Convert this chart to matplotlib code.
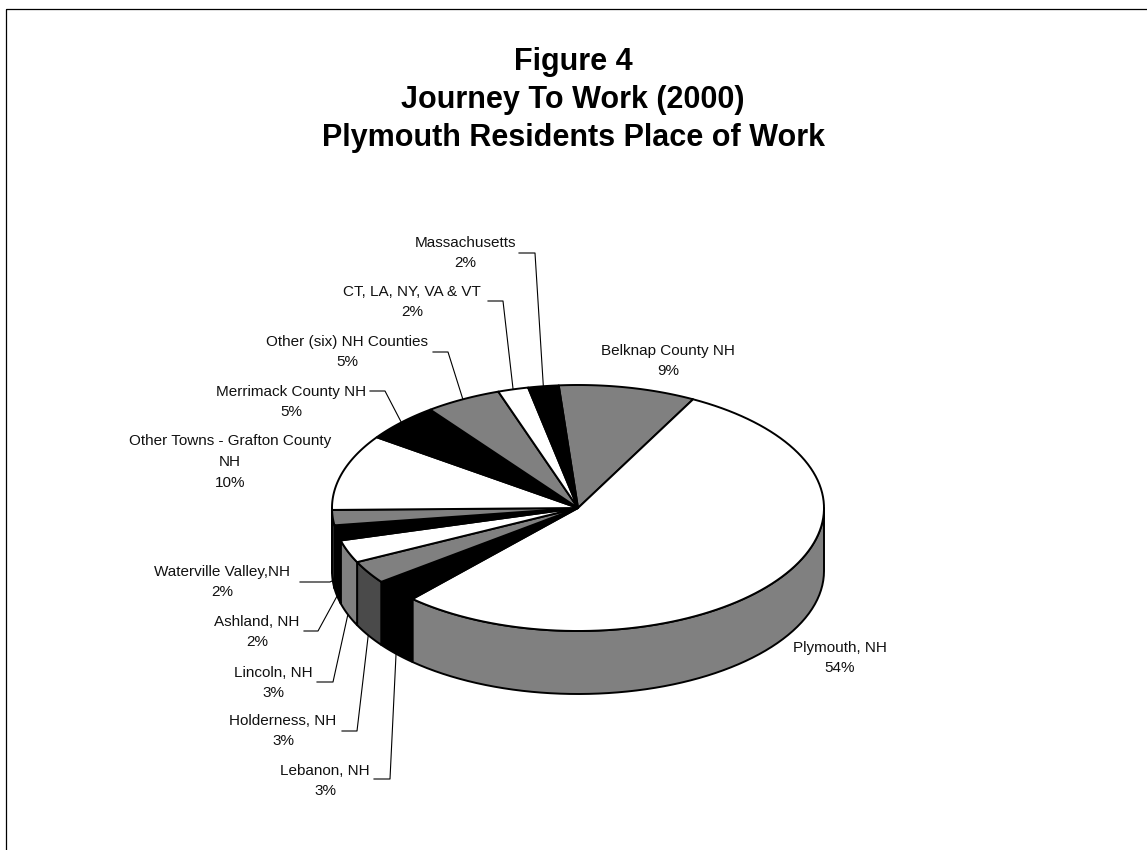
import numpy as np
import matplotlib.pyplot as plt
from matplotlib.patches import Polygon, Rectangle

# place of work for Plymouth residents, 2000 census (percent)
places = ["Belknap County NH", "Plymouth, NH", "Lebanon, NH", "Holderness, NH",
          "Lincoln, NH", "Ashland, NH", "Waterville Valley,NH",
          "Other Towns - Grafton County\nNH", "Merrimack County NH",
          "Other (six) NH Counties", "CT, LA, NY, VA & VT", "Massachusetts"]
shares = [9, 54, 3, 3, 3, 2, 2, 10, 5, 5, 2, 2]
fills = ["#808080", "white", "black"] * 4

title_lines = ["Figure 4", "Journey To Work (2000)", "Plymouth Residents Place of Work"]

# side faces are a shade darker than the tops
side_shade = {"white": "#808080", "#808080": "#4a4a4a", "black": "black"}

# pie geometry (pixels)
cx, cy = 578, 508
ra, rb = 246, 123
depth = 63
start = -4.5

# label block centres and leader lines (x_start, x_elbow, y)
label_xy = [(668, 361), (840, 658), (325, 781), (283, 731), (273, 683),
            (257, 632), (222, 582), (230, 462), (291, 402), (347, 352),
            (412, 302), (465, 253)]
leaders = {2: (374, 390, 779), 3: (342, 357, 731), 4: (317, 333, 682),
           5: (304, 318, 631), 6: (300, 330, 582), 8: (370, 385, 391),
           9: (433, 448, 352), 10: (488, 503, 301), 11: (519, 535, 253)}


def rim(theta, drop=0.0):
    t = np.radians(theta)
    return cx + ra * np.sin(t), cy - rb * np.cos(t) + drop


fig = plt.figure(figsize=(11.47, 8.5), dpi=100)
ax = fig.add_axes([0, 0, 1, 1])
ax.set_xlim(0, 1147)
ax.set_ylim(850, 0)
ax.axis("off")

# chart frame
ax.add_patch(Rectangle((6, 9), 1160, 860, fill=False, ec="black", lw=0.9))

for i, line in enumerate(title_lines):
    ax.text(573, 62 + 38 * i, line, ha="center", va="center", fontsize=22,
            fontweight="bold", family="Liberation Sans")

edges = start + np.concatenate([[0], np.cumsum(shares)]) * 3.6

# side walls on the front half
for k in range(len(shares)):
    a0, a1 = max(edges[k], 90), min(edges[k + 1], 270)
    if a1 <= a0:
        continue
    th = np.linspace(a0, a1, 60)
    xs, ys = rim(th)
    xb, yb = rim(th[::-1], depth)
    pts = np.column_stack([np.r_[xs, xb], np.r_[ys, yb]])
    ax.add_patch(Polygon(pts, closed=True, fc=side_shade[fills[k]], ec="black",
                         lw=1.4, joinstyle="round", zorder=2))

# top faces
for k in range(len(shares)):
    th = np.linspace(edges[k], edges[k + 1], 100)
    xs, ys = rim(th)
    pts = np.column_stack([np.r_[cx, xs], np.r_[cy, ys]])
    ax.add_patch(Polygon(pts, closed=True, fc=fills[k], ec="black",
                         lw=1.4, joinstyle="round", zorder=3))

# labels with leader lines
for k, (name, s) in enumerate(zip(places, shares)):
    lx, ly = label_xy[k]
    ax.text(lx, ly, f"{name}\n{s}%", ha="center", va="center", fontsize=11,
            linespacing=1.6, family="Liberation Sans", color="#111111")
    if k in leaders:
        x0, x1, yl = leaders[k]
        mid = (edges[k] + edges[k + 1]) / 2
        drop = depth if 90 < mid < 270 else 0
        px, py = rim(mid, drop)
        ax.plot([x0, x1, px], [yl, yl, py], color="black", lw=0.8, zorder=4)

fig.savefig("out.png", dpi=100)
